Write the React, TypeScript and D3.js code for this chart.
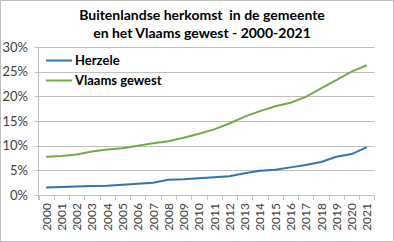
import React from "react";
import * as d3 from "d3";

const years = ["2000","2001","2002","2003","2004","2005","2006","2007","2008","2009","2010","2011","2012","2013","2014","2015","2016","2017","2018","2019","2020","2021"];
const herzele = [1.5,1.6,1.7,1.8,1.9,2.1,2.3,2.5,3.1,3.2,3.4,3.6,3.8,4.4,4.9,5.1,5.6,6.1,6.7,7.75,8.3,9.7];
const vlaams = [7.75,7.9,8.2,8.8,9.2,9.5,10.0,10.5,10.9,11.6,12.4,13.3,14.5,15.9,17.0,18.0,18.7,19.9,21.6,23.3,25.0,26.3];
const yTicks = [0,5,10,15,20,25,30];
const seriesNames = ["Herzele","Vlaams gewest"];
const colors = ["#2E75B6","#70AD47"];
const titleLines = ["Buitenlandse herkomst  in de gemeente","en het Vlaams gewest - 2000-2021"];

export default function App() {
  const W = 394, H = 242;
  const left = 38.5, right = 374.5, top = 47, bottom = 195;
  const x = d3.scaleBand<string>().domain(years).range([left, right]);
  const y = d3.scaleLinear().domain([0, 30]).range([bottom, top]);
  const line = d3.line<number>().x((_, i) => (x(years[i]) as number) + x.bandwidth() / 2).y(d => y(d));
  const font = "Lato, 'Open Sans', sans-serif";
  const series = [herzele, vlaams];
  return (
    <svg width={W} height={H} style={{ position: "absolute", left: 0, top: 0 }} fontFamily={font}>
      <rect x={0} y={0} width={W} height={H} fill="#fff" />
      <rect x={0.5} y={0.5} width={W - 1} height={H - 1} fill="none" stroke="#BFBFBF" />
      {titleLines.map((t, i) => (
        <text key={i} x={202} y={20 + i * 18} textAnchor="middle" fontSize={14} fontWeight="bold" fill="#000" xmlSpace="preserve">{t}</text>
      ))}
      {yTicks.map(t => (
        <g key={t}>
          <line x1={left - 4} x2={right} y1={Math.round(y(t)) + 0.5} y2={Math.round(y(t)) + 0.5} stroke="#BFBFBF" strokeWidth={1} />
          <text x={28} y={y(t) + 4.5} textAnchor="end" fontSize={13} fill="#404040">{t}%</text>
        </g>
      ))}
      <line x1={left} x2={left} y1={top} y2={bottom + 5} stroke="#BFBFBF" />
      {years.map((yr, i) => (
        <g key={yr}>
          <line x1={Math.round(x(yr) as number) + 0.5} x2={Math.round(x(yr) as number) + 0.5} y1={bottom} y2={bottom + 5} stroke="#BFBFBF" />
          <text transform={`translate(${(x(yr) as number) + x.bandwidth() / 2 + 4.5},203) rotate(-90)`} textAnchor="end" fontSize={12} fill="#404040">{yr}</text>
        </g>
      ))}
      <line x1={right} x2={right} y1={bottom} y2={bottom + 5} stroke="#BFBFBF" />
      {series.map((s, i) => (
        <path key={i} d={line(s) as string} fill="none" stroke={colors[i]} strokeWidth={2} />
      ))}
      {seriesNames.map((n, i) => (
        <g key={n}>
          <line x1={46} x2={72} y1={60.5 + i * 20} y2={60.5 + i * 20} stroke={colors[i]} strokeWidth={2} />
          <text x={75} y={65 + i * 20} fontSize={13} fontWeight="bold" fill="#000">{n}</text>
        </g>
      ))}
    </svg>
  );
}
